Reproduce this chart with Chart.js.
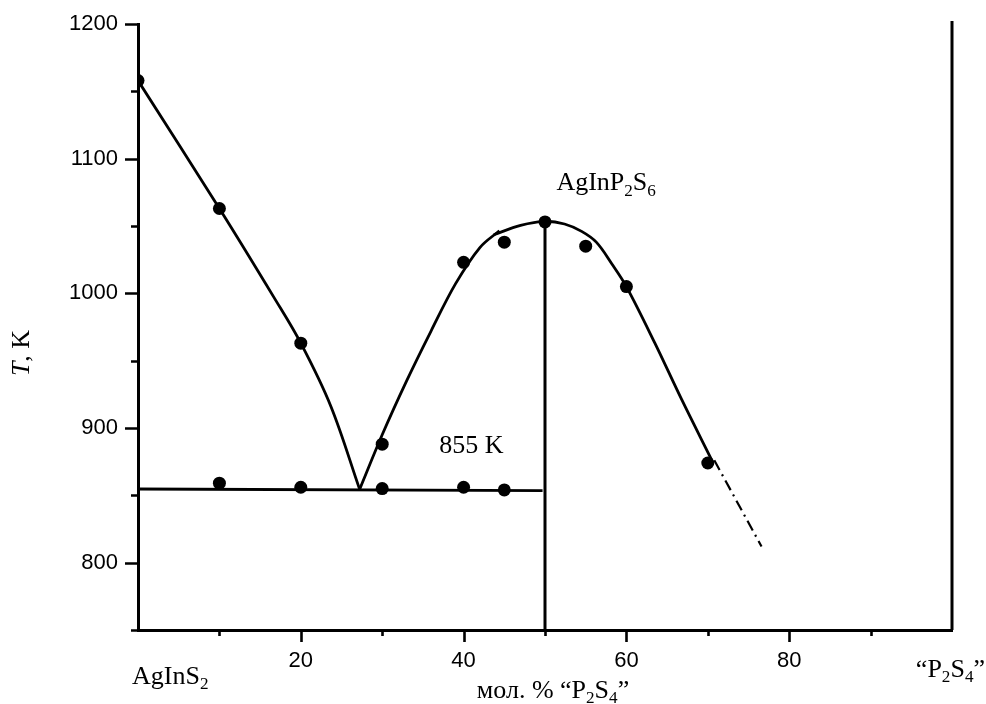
<!DOCTYPE html>
<html>
<head>
<meta charset="utf-8">
<script src="https://cdn.jsdelivr.net/npm/chart.js@4.4.1/dist/chart.umd.min.js"></script>
<style>
    html, body { margin: 0; padding: 0; background: #fff; }
    canvas { display: block; }
</style>
</head>
<body>
<canvas id="phaseChart" width="986" height="704"></canvas>
<script>
// measured points (mol. % "P2S4", T in K)
const liquidusX = [0, 10, 20, 30, 40, 45, 50, 55, 60, 70];
const liquidusT = [1158, 1063, 963, 888, 1023, 1038, 1053, 1035, 1005, 874];
const solidusX = [10, 20, 30, 40, 45];
const solidusT = [859, 856, 855, 856, 854];

// drawn lines
const leftBranchX = [0, 10, 16.7, 20, 23.7, 27.2];
const leftBranchT = [1158, 1063, 997, 963, 916, 855];
const riseBranchX = [27.2, 30, 33, 36, 39, 42, 44.4];
const riseBranchT = [854, 895, 935, 972, 1007, 1034, 1046.5];
const domeX = [43.7, 47, 50, 52.4, 54.5, 56.3, 58.2, 60, 63.5, 66.8, 70.5];
const domeT = [1043.5, 1050.5, 1053.5, 1051.5, 1046, 1038, 1022, 1005, 963, 921, 876];
const eutecticX = [0, 49.7];
const eutecticT = [854.7, 853.5];
const compoundX = [50, 50];
const compoundT = [1053.5, 750];
const extrapX = [70.8, 76.6];
const extrapT = [876, 812];

const xMajorLabels = [20, 40, 60, 80];
const yMajorLabels = [800, 900, 1000, 1100, 1200];

const SANS = '"Liberation Sans", Arial, sans-serif';
const SERIF = '"Liberation Serif", "Times New Roman", serif';

const toPoints = (xs, ys) => xs.map((v, i) => ({ x: v, y: ys[i] }));

function lineSet(xs, ys, extra) {
    return {
        data: toPoints(xs, ys),
        showLine: true,
        borderColor: '#000',
        borderWidth: 2.8,
        pointRadius: 0,
        tension: 0.35,
        ...extra,
    };
}

// text with sub/italic runs
function drawRich(ctx, parts, x, y, size, align) {
    const fontFor = p => (p.italic ? 'italic ' : '') + (p.sub ? size * 0.66 : size) + 'px ' + SERIF;
    let total = 0;
    const widths = parts.map(p => {
        ctx.font = fontFor(p);
        const w = ctx.measureText(p.t).width;
        total += w;
        return w;
    });
    let cx = align === 'center' ? x - total / 2 : align === 'right' ? x - total : x;
    ctx.textAlign = 'left';
    ctx.textBaseline = 'alphabetic';
    parts.forEach((p, i) => {
        ctx.font = fontFor(p);
        ctx.fillText(p.t, cx, y + (p.sub ? size * 0.2 : 0));
        cx += widths[i];
    });
}

const axisMarks = {
    id: 'axisMarks',
    afterDraw(chart) {
        const { ctx, chartArea: a, scales: { x, y } } = chart;
        ctx.save();
        ctx.strokeStyle = '#000';
        ctx.lineWidth = 2.6;
        ctx.beginPath();
        x.ticks.forEach(t => {
            if (t.value <= x.min || t.value >= x.max) return;
            const px = Math.round(x.getPixelForValue(t.value)) + 0.5;
            const len = t.value % 20 === 0 ? 12 : 6;
            ctx.moveTo(px, a.bottom);
            ctx.lineTo(px, a.bottom + len);
        });
        y.ticks.forEach(t => {
            const py = Math.round(y.getPixelForValue(t.value)) + 0.5;
            const len = t.value % 100 === 0 ? 13 : 7;
            ctx.moveTo(a.left, py);
            ctx.lineTo(a.left - len, py);
        });
        ctx.stroke();

        // right frame line
        ctx.lineWidth = 3;
        ctx.beginPath();
        ctx.moveTo(a.right, a.top - 3);
        ctx.lineTo(a.right, a.bottom);
        ctx.stroke();

        ctx.fillStyle = '#000';
        drawRich(ctx, [{ t: 'AgInS' }, { t: '2', sub: true }], a.left - 6, 684, 26, 'left');
        drawRich(ctx, [{ t: '\u201cP' }, { t: '2', sub: true }, { t: 'S' }, { t: '4', sub: true }, { t: '\u201d' }],
            985, 677, 26, 'right');
        drawRich(ctx, [{ t: 'мол. % \u201cP' }, { t: '2', sub: true }, { t: 'S' }, { t: '4', sub: true }, { t: '\u201d' }],
            553, 698, 26, 'center');
        drawRich(ctx, [{ t: 'AgInP' }, { t: '2', sub: true }, { t: 'S' }, { t: '6', sub: true }],
            x.getPixelForValue(51.4), y.getPixelForValue(1076.5), 26, 'left');
        drawRich(ctx, [{ t: '855 K' }], x.getPixelForValue(37), y.getPixelForValue(881.4), 26, 'left');

        ctx.translate(29, 353);
        ctx.rotate(-Math.PI / 2);
        drawRich(ctx, [{ t: 'T', italic: true }, { t: ', K' }], 0, 0, 26, 'center');
        ctx.restore();
    },
};

new Chart(document.getElementById('phaseChart'), {
    type: 'scatter',
    data: {
        datasets: [
            {
                data: toPoints(liquidusX, liquidusT).concat(toPoints(solidusX, solidusT)),
                pointRadius: 6.5,
                pointBackgroundColor: '#000',
                pointBorderColor: '#000',
                pointBorderWidth: 0,
                clip: { left: 0, top: false, right: false, bottom: false },
            },
            lineSet(leftBranchX, leftBranchT),
            lineSet(riseBranchX, riseBranchT),
            lineSet(domeX, domeT),
            lineSet(eutecticX, eutecticT, { tension: 0 }),
            lineSet(compoundX, compoundT, { borderWidth: 3, tension: 0 }),
            lineSet(extrapX, extrapT, { borderWidth: 2.2, tension: 0, borderDash: [11, 5, 2, 5] }),
        ],
    },
    options: {
        responsive: false,
        animation: false,
        events: [],
        layout: { padding: { left: 0, top: 24, right: 34, bottom: 0 } },
        plugins: {
            legend: { display: false },
            tooltip: { enabled: false },
        },
        scales: {
            x: {
                type: 'linear',
                min: 0,
                max: 100,
                afterFit: s => {
                    s.height = 74;
                    s.paddingLeft = 0;
                    s.paddingRight = 0;
                },
                grid: { display: false, drawTicks: false, tickLength: 0 },
                border: { display: true, color: '#000', width: 3 },
                ticks: {
                    stepSize: 10,
                    padding: 18,
                    color: '#000',
                    font: { family: SANS, size: 22 },
                    maxRotation: 0,
                    autoSkip: false,
                    callback: v => (xMajorLabels.includes(v) ? String(v) : ''),
                },
            },
            y: {
                type: 'linear',
                min: 750,
                max: 1200,
                afterFit: s => {
                    s.width = 138;
                    s.paddingTop = 0;
                    s.paddingBottom = 0;
                },
                grid: { display: false, drawTicks: false, tickLength: 0 },
                border: { display: true, color: '#000', width: 3 },
                ticks: {
                    stepSize: 50,
                    padding: 20,
                    color: '#000',
                    font: { family: SANS, size: 22 },
                    autoSkip: false,
                    callback: v => (yMajorLabels.includes(v) ? String(v) : ''),
                },
            },
        },
    },
    plugins: [axisMarks],
});
</script>
</body>
</html>
